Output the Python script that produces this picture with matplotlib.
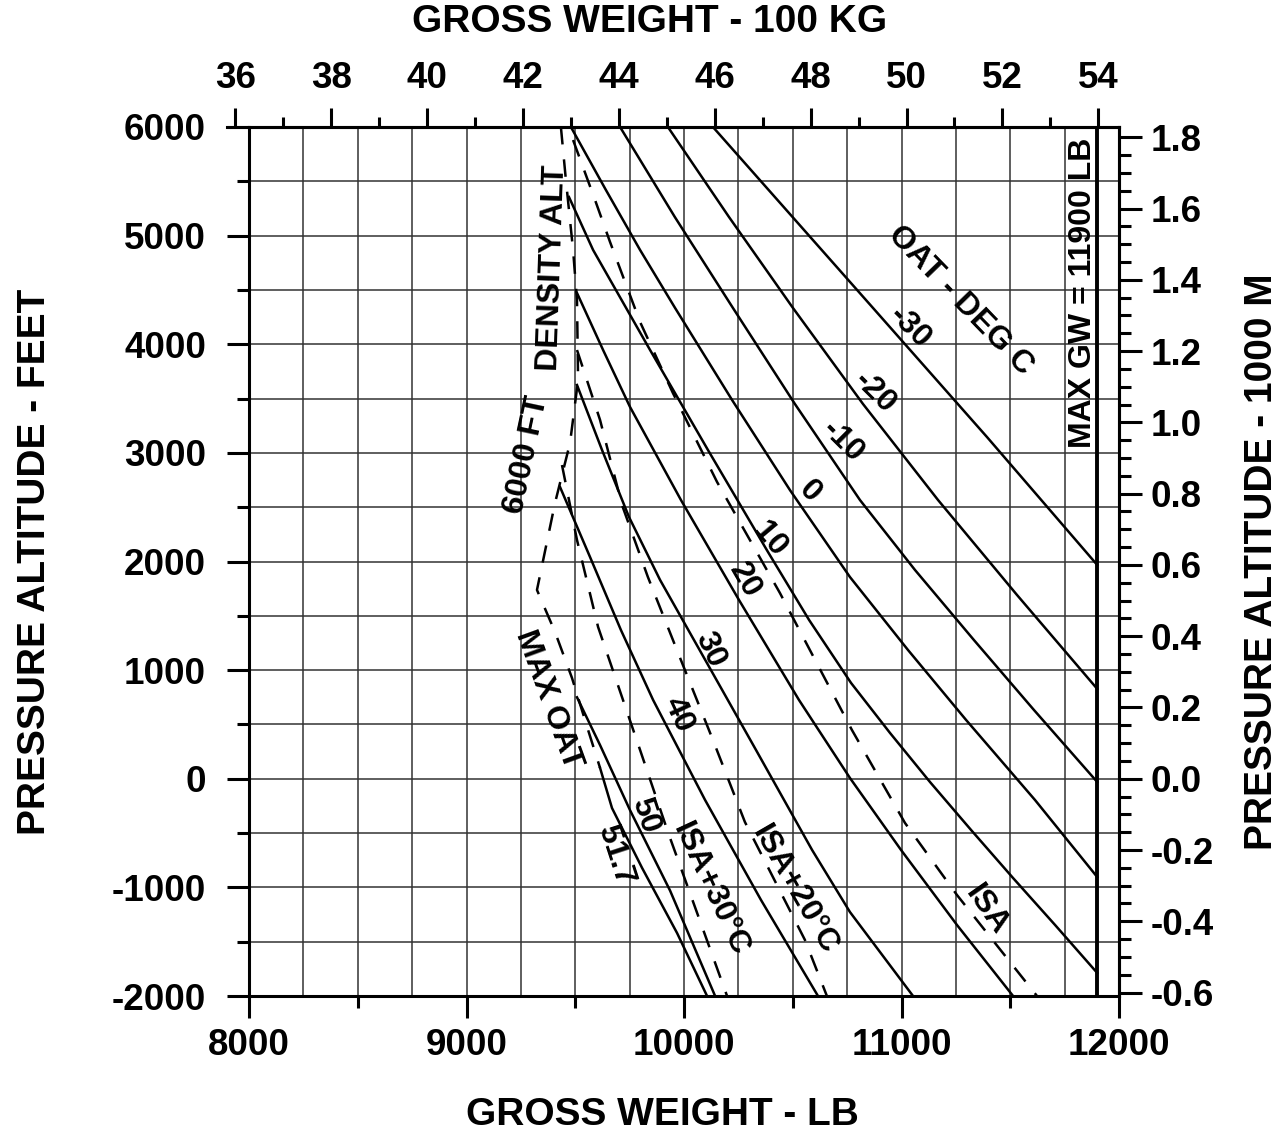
import matplotlib.pyplot as plt
import numpy as np
from matplotlib.ticker import MultipleLocator, FuncFormatter

plt.rcParams['font.family'] = ['Liberation Sans', 'DejaVu Sans']
plt.rcParams['font.weight'] = 'bold'
plt.rcParams['axes.unicode_minus'] = False

# OAT lines (deg C): gross weight (lb) vs pressure altitude (ft)
oat_m30_lb = [10133, 10869, 11393, 11900]
oat_m30_ft = [6000, 4334, 3146, 1968]
oat_m20_lb = [9926, 10207, 10501, 10823, 11168, 11531, 11900]
oat_m20_ft = [6000, 5171, 4334, 3450, 2566, 1692, 827]
oat_m10_lb = [9706, 9958, 10225, 10510, 10809, 11062, 11333, 11609, 11900]
oat_m10_ft = [6000, 5171, 4334, 3450, 2566, 1922, 1277, 633, -30]
oat_0_lb = [9480, 9641, 9798, 9959, 10221, 10487, 10763, 11030, 11297, 11614, 11900]
oat_0_ft = [6000, 5420, 4868, 4334, 3487, 2658, 1857, 1185, 541, -196, -905]
oat_10_lb = [9471, 9582, 9844, 10110, 10386, 10575, 10768, 10947, 11131, 11320, 11513, 11706, 11900]
oat_10_ft = [5356, 4868, 3947, 3027, 2088, 1462, 882, 422, -30, -472, -914, -1346, -1788]
oat_20_lb = [9508, 9628, 9752, 9986, 10253, 10529, 10763, 10998, 11255, 11513]
oat_20_ft = [4472, 3947, 3422, 2566, 1645, 724, 7, -656, -1346, -2000]
oat_30_lb = [9508, 9623, 9747, 9890, 10064, 10331, 10589, 10763, 11053]
oat_30_ft = [3625, 3027, 2410, 1830, 1213, 265, -656, -1227, -2000]
oat_40_lb = [9430, 9568, 9710, 9858, 10097, 10354, 10616]
oat_40_ft = [2686, 2041, 1369, 725, -196, -1116, -2000]
oat_50_lb = [9508, 9614, 9752, 9936, 10143]
oat_50_ft = [750, 310, -290, -1030, -2000]
oat_517_lb = [9614, 9669, 9807, 9968, 10106]
oat_517_ft = [100, -270, -820, -1420, -2000]

# dashed reference lines
isa_lb = [9490, 9591, 9660, 9798, 9949, 10152, 10441, 10772, 11016, 11255, 11499, 11623]
isa_ft = [5880, 5328, 4941, 4205, 3551, 2732, 1710, 449, -407, -1070, -1687, -2000]
isa20_lb = [9508, 9614, 9715, 9834, 9982, 10133, 10280, 10556, 10657]
isa20_ft = [3947, 3303, 2520, 1857, 1112, 357, -398, -1484, -2000]
isa30_lb = [9439, 9508, 9605, 9798, 9926, 10198]
isa30_ft = [2888, 2198, 1397, 265, -490, -2000]
limit_lb = [9434, 9457, 9490, 9508, 9513, 9476, 9407, 9324, 9407, 9485, 9559, 9614]
limit_ft = [6000, 5512, 4868, 4407, 3671, 3091, 2539, 1738, 1351, 928, 449, 100]

max_gw = 11900

# curve labels: text, lb, ft, angle
labels = [
    ('OAT - DEG C', 11269, 4400, -46),
    ('-30', 11039, 4150, -45),
    ('-20', 10878, 3551, -45),
    ('-10', 10731, 3100, -45),
    ('0', 10579, 2640, -45),
    ('10', 10395, 2198, -50),
    ('20', 10280, 1830, -60),
    ('30', 10120, 1185, -65),
    ('40', 9972, 587, -65),
    ('50', 9821, -334, -72),
    ('51.7', 9683, -702, -72),
    ('ISA+30°C', 10120, -1024, -65),
    ('ISA+20°C', 10510, -1024, -60),
    ('ISA', 11393, -1208, -55),
    ('MAX OAT', 9375, 725, -70),
    ('6000 FT', 9278, 2980, 78),
    ('DENSITY ALT', 9398, 4702, 88),
    ('MAX GW = 11900 LB', 11834, 4472, 90),
]

fig = plt.figure(figsize=(12.84, 11.45), dpi=100)
L, R, B, T = 249 / 1284, 1119 / 1284, 149 / 1145, 1018 / 1145
ax = fig.add_axes([L, B, R - L, T - B])
ax.set_xlim(8000, 12000)
ax.set_ylim(-2000, 6000)

for x in np.arange(8250, 12000, 250):
    ax.axvline(x, color='#333333', lw=1.1, zorder=1)
for y in np.arange(-1500, 6000, 500):
    ax.axhline(y, color='#333333', lw=1.1, zorder=1)

for s in ax.spines.values():
    s.set_linewidth(2.2)

ax.xaxis.set_major_locator(MultipleLocator(1000))
ax.xaxis.set_minor_locator(MultipleLocator(500))
ax.yaxis.set_major_locator(MultipleLocator(1000))
ax.yaxis.set_minor_locator(MultipleLocator(500))
ax.tick_params(which='major', length=16, width=2.2, labelsize=26.5)
ax.tick_params(axis='y', which='major', pad=15)
ax.tick_params(axis='x', which='major', pad=7)
ax.tick_params(which='minor', length=8.5, width=2.2)

solid = [(oat_m30_lb, oat_m30_ft), (oat_m20_lb, oat_m20_ft), (oat_m10_lb, oat_m10_ft),
         (oat_0_lb, oat_0_ft), (oat_10_lb, oat_10_ft), (oat_20_lb, oat_20_ft),
         (oat_30_lb, oat_30_ft), (oat_40_lb, oat_40_ft), (oat_50_lb, oat_50_ft),
         (oat_517_lb, oat_517_ft)]
for xs, ys in solid:
    ax.plot(xs, ys, color='black', lw=1.8, zorder=3, solid_joinstyle='round')

for xs, ys in [(isa_lb, isa_ft), (isa20_lb, isa20_ft), (isa30_lb, isa30_ft), (limit_lb, limit_ft)]:
    ax.plot(xs, ys, color='black', lw=1.8, ls=(0, (7, 6)), zorder=3)

ax.axvline(max_gw, color='black', lw=2.8, zorder=4)

for txt, xl, yl, ang in labels:
    ax.text(xl, yl, txt, rotation=ang, rotation_mode='anchor', ha='center', va='center',
            fontsize=23, fontweight='bold', zorder=5)

# right scale: 1000 m
to_km = lambda f: f * 0.3048 / 1000
to_ft = lambda k: k * 1000 / 0.3048
secy = ax.secondary_yaxis('right', functions=(to_km, to_ft))
secy.yaxis.set_major_locator(MultipleLocator(0.2))
secy.yaxis.set_minor_locator(MultipleLocator(0.05))
secy.yaxis.set_major_formatter(FuncFormatter(lambda v, p: f"{round(v, 1) + 0:.1f}"))
secy.tick_params(which='major', length=16.5, width=2.2, labelsize=26.5, pad=6)
secy.tick_params(which='minor', length=8.5, width=2.2)
secy.spines['right'].set_linewidth(2.2)

# top scale: 100 kg (own axes so the 36 tick left of the frame shows)
lb_left = 8000 - 4000 * 22 / 870
kx = fig.add_axes([227 / 1284, B, (1119 - 227) / 1284, T - B])
kx.patch.set_visible(False)
kx.set_xlim(lb_left * 0.45359237 / 100, 12000 * 0.45359237 / 100)
kx.set_ylim(0, 1)
for side in ['left', 'right', 'bottom']:
    kx.spines[side].set_visible(False)
kx.spines['top'].set_linewidth(2.2)
kx.yaxis.set_visible(False)
kx.xaxis.tick_top()
kx.xaxis.set_major_locator(MultipleLocator(2))
kx.xaxis.set_minor_locator(MultipleLocator(1))
kx.tick_params(which='major', length=13.5, width=2.2, labelsize=26.5, pad=9)
kx.tick_params(which='minor', length=7, width=2.2)

fig.text(650 / 1284, 1 - 22 / 1145, 'GROSS WEIGHT - 100 KG', ha='center', va='center', fontsize=28, fontweight='bold')
fig.text(662 / 1284, 1 - 1115 / 1145, 'GROSS WEIGHT - LB', ha='center', va='center', fontsize=28, fontweight='bold')
fig.text(35 / 1284, 1 - 562 / 1145, 'PRESSURE ALTITUDE - FEET', ha='center', va='center', rotation=90, fontsize=28, fontweight='bold')
fig.text(1262 / 1284, 1 - 562 / 1145, 'PRESSURE ALTITUDE - 1000 M', ha='center', va='center', rotation=90, fontsize=28, fontweight='bold')

fig.savefig('out.png', dpi=100)
